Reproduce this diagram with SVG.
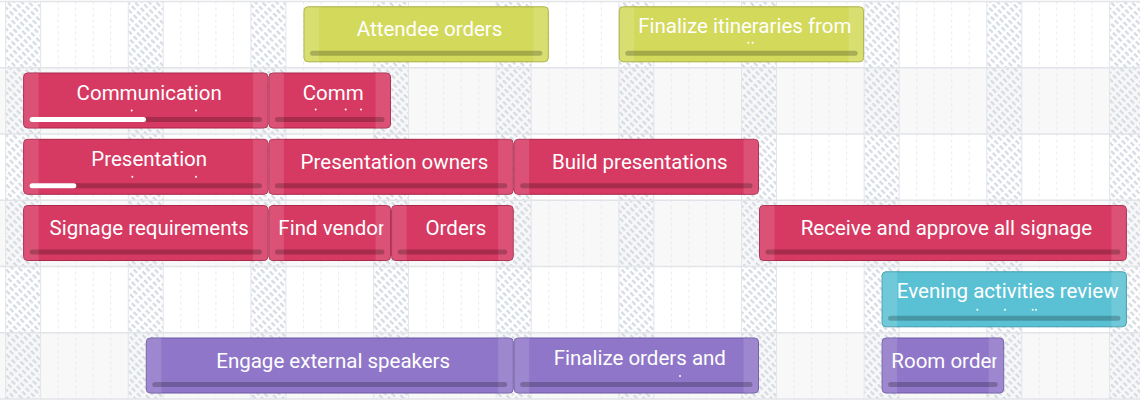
<svg xmlns="http://www.w3.org/2000/svg" xmlns:xlink="http://www.w3.org/1999/xlink" width="1140" height="414" viewBox="0 0 1140 414">
<style>
.rowA{fill:#ffffff}
.rowB{fill:#f8f8f9}
.hline{stroke:#e1e4e8;stroke-width:1.5}
.dline{stroke:#e9ebee;stroke-width:1;stroke-dasharray:3 3}
.wline{stroke:#e3e6ea;stroke-width:1}
.red{fill:#d63962;stroke:#a8274b;stroke-width:1}
.yel{fill:#d3d95b;stroke:#a9ae3e;stroke-width:1}
.cyan{fill:#5ac1d4;stroke:#3e9aab;stroke-width:1}
.purp{fill:#8f76c8;stroke:#6d58a3;stroke-width:1}
.hl{fill:#ffffff;opacity:0.13}
.track{fill:#000000;opacity:0.22}
.prog{fill:#ffffff}
.lbl{font-family:Roboto,"Liberation Sans",sans-serif;font-size:20.5px;fill:#ffffff;text-anchor:middle}
.dot{fill:#ffffff}
</style>
<defs>
<pattern id="hatch" patternUnits="userSpaceOnUse" width="7.5" height="5" patternTransform="rotate(45)">
<rect x="0" y="0" width="5" height="2.3" fill="#d5dbe2"/>
</pattern>
<path id="edgeL" d="M4,0 H15 V55 H4 A4,4 0 0 1 0,51 V4 A4,4 0 0 1 4,0 Z"/>
<path id="edgeR" d="M0,0 H11 A4,4 0 0 1 15,4 V51 A4,4 0 0 1 11,55 H0 Z"/>
<clipPath id="clipS" clipPathUnits="userSpaceOnUse"><rect x="7" y="0" width="107.5" height="55"/></clipPath>
</defs>

<g id="grid">
<rect x="0" y="0" width="1140" height="414" fill="#ffffff"/>
<rect class="rowA" x="0" y="1.5" width="1140" height="66.25"/>
<rect class="rowB" x="0" y="67.75" width="1140" height="66.25"/>
<rect class="rowA" x="0" y="134" width="1140" height="66.25"/>
<rect class="rowB" x="0" y="200.25" width="1140" height="66.25"/>
<rect class="rowA" x="0" y="266.5" width="1140" height="66.25"/>
<rect class="rowB" x="0" y="332.75" width="1140" height="66.25"/>
<g>
<rect x="5.6" y="1.5" width="35" height="397.5" fill="url(#hatch)"/>
<rect x="128.25" y="1.5" width="35" height="397.5" fill="url(#hatch)"/>
<rect x="250.9" y="1.5" width="35" height="397.5" fill="url(#hatch)"/>
<rect x="373.55" y="1.5" width="35" height="397.5" fill="url(#hatch)"/>
<rect x="496.2" y="1.5" width="35" height="397.5" fill="url(#hatch)"/>
<rect x="618.85" y="1.5" width="35" height="397.5" fill="url(#hatch)"/>
<rect x="741.5" y="1.5" width="35" height="397.5" fill="url(#hatch)"/>
<rect x="864.15" y="1.5" width="35" height="397.5" fill="url(#hatch)"/>
<rect x="986.8" y="1.5" width="35" height="397.5" fill="url(#hatch)"/>
<rect x="1109.45" y="1.5" width="35" height="397.5" fill="url(#hatch)"/>
</g>
<g>
<path class="dline" d="M58.2,1.5V399M75.7,1.5V399M93.2,1.5V399M110.7,1.5V399M180.8,1.5V399M198.4,1.5V399M215.9,1.5V399M233.4,1.5V399M303.5,1.5V399M321,1.5V399M338.5,1.5V399M356,1.5V399M426.1,1.5V399M443.6,1.5V399M461.2,1.5V399M478.7,1.5V399M548.8,1.5V399M566.3,1.5V399M583.8,1.5V399M601.3,1.5V399M671.4,1.5V399M688.9,1.5V399M706.4,1.5V399M724,1.5V399M794,1.5V399M811.6,1.5V399M829.1,1.5V399M846.6,1.5V399M916.7,1.5V399M934.2,1.5V399M951.7,1.5V399M969.2,1.5V399M1039.3,1.5V399M1056.8,1.5V399M1074.4,1.5V399M1091.9,1.5V399"/>
<path class="wline" d="M5.6,1.5V399M40.6,1.5V399M128.25,1.5V399M163.25,1.5V399M250.9,1.5V399M285.9,1.5V399M373.55,1.5V399M408.55,1.5V399M496.2,1.5V399M531.2,1.5V399M618.85,1.5V399M653.85,1.5V399M741.5,1.5V399M776.5,1.5V399M864.15,1.5V399M899.15,1.5V399M986.8,1.5V399M1021.8,1.5V399M1109.45,1.5V399"/>
</g>
<path class="hline" d="M0,1.5H1140M0,67.75H1140M0,134H1140M0,200.25H1140M0,266.5H1140M0,332.75H1140M0,399H1140"/>
</g>

<g id="connectors"></g>

<g id="task-attendee-orders" transform="translate(304,6.8)">
<rect class="yel" width="244.3" height="55" rx="4"/>
<use href="#edgeL" class="hl"/><use href="#edgeR" class="hl" x="229.3"/>
<rect class="track" x="6" y="44" width="232.3" height="5" rx="2.5"/>
<text class="lbl" x="125.6" y="29.5">Attendee orders</text>
</g>

<g id="task-finalize-itineraries" transform="translate(619.3,6.8)">
<rect class="yel" width="244.3" height="55" rx="4"/>
<use href="#edgeL" class="hl"/><use href="#edgeR" class="hl" x="229.3"/>
<rect class="track" x="6" y="44" width="232.3" height="5" rx="2.5"/>
<text class="lbl" x="125.6" y="26.5">Finalize itineraries from</text>
<circle class="dot" cx="129" cy="36" r="1"/><circle class="dot" cx="133.4" cy="36" r="1"/>
</g>

<g id="task-communication" transform="translate(23.6,73)">
<rect class="red" width="244.3" height="55" rx="4"/>
<use href="#edgeL" class="hl"/><use href="#edgeR" class="hl" x="229.3"/>
<rect class="track" x="6" y="44" width="232.3" height="5" rx="2.5"/>
<rect class="prog" x="6" y="44" width="116.4" height="5" rx="2.5"/>
<text class="lbl" x="125.6" y="27">Communication</text>
<circle class="dot" cx="108.1" cy="37.5" r="1"/><circle class="dot" cx="172.4" cy="37.5" r="1"/>
</g>

<g id="task-comm" transform="translate(268.9,73)">
<rect class="red" width="121.6" height="55" rx="4"/>
<use href="#edgeL" class="hl"/><use href="#edgeR" class="hl" x="106.6"/>
<rect class="track" x="6" y="44" width="109.6" height="5" rx="2.5"/>
<text class="lbl" x="64.3" y="27">Comm</text>
<circle class="dot" cx="46.8" cy="36.5" r="1"/><circle class="dot" cx="76.8" cy="36.5" r="1"/><circle class="dot" cx="92.1" cy="36.5" r="1"/>
</g>

<g id="task-presentation" transform="translate(23.6,139.3)">
<rect class="red" width="244.3" height="55" rx="4"/>
<use href="#edgeL" class="hl"/><use href="#edgeR" class="hl" x="229.3"/>
<rect class="track" x="6" y="44" width="232.3" height="5" rx="2.5"/>
<rect class="prog" x="6" y="44" width="46.7" height="5" rx="2.5"/>
<text class="lbl" x="125.6" y="26.5">Presentation</text>
<circle class="dot" cx="108.7" cy="37.5" r="1"/><circle class="dot" cx="172.4" cy="37.5" r="1"/>
</g>

<g id="task-presentation-owners" transform="translate(268.9,139.3)">
<rect class="red" width="244.3" height="55" rx="4"/>
<use href="#edgeL" class="hl"/><use href="#edgeR" class="hl" x="229.3"/>
<rect class="track" x="6" y="44" width="232.3" height="5" rx="2.5"/>
<text class="lbl" x="125.6" y="29.5">Presentation owners</text>
</g>

<g id="task-build-presentations" transform="translate(514.2,139.3)">
<rect class="red" width="244.3" height="55" rx="4"/>
<use href="#edgeL" class="hl"/><use href="#edgeR" class="hl" x="229.3"/>
<rect class="track" x="6" y="44" width="232.3" height="5" rx="2.5"/>
<text class="lbl" x="125.6" y="29.5">Build presentations</text>
</g>

<g id="task-signage-requirements" transform="translate(23.6,205.5)">
<rect class="red" width="244.3" height="55" rx="4"/>
<use href="#edgeL" class="hl"/><use href="#edgeR" class="hl" x="229.3"/>
<rect class="track" x="6" y="44" width="232.3" height="5" rx="2.5"/>
<text class="lbl" x="125.6" y="29.5">Signage requirements</text>
</g>

<g id="task-find-vendors" transform="translate(268.9,205.5)">
<rect class="red" width="121.6" height="55" rx="4"/>
<use href="#edgeL" class="hl"/><use href="#edgeR" class="hl" x="106.6"/>
<rect class="track" x="6" y="44" width="109.6" height="5" rx="2.5"/>
<text class="lbl" x="68" y="29.5" clip-path="url(#clipS)">Find vendors</text>
</g>

<g id="task-orders" transform="translate(391.6,205.5)">
<rect class="red" width="121.6" height="55" rx="4"/>
<use href="#edgeL" class="hl"/><use href="#edgeR" class="hl" x="106.6"/>
<rect class="track" x="6" y="44" width="109.6" height="5" rx="2.5"/>
<text class="lbl" x="64.3" y="29.5">Orders</text>
</g>

<g id="task-receive-signage" transform="translate(759.5,205.5)">
<rect class="red" width="366.9" height="55" rx="4"/>
<use href="#edgeL" class="hl"/><use href="#edgeR" class="hl" x="351.9"/>
<rect class="track" x="6" y="44" width="354.9" height="5" rx="2.5"/>
<text class="lbl" x="186.9" y="29.5">Receive and approve all signage</text>
</g>

<g id="task-evening-activities" transform="translate(882.1,271.8)">
<rect class="cyan" width="244.3" height="55" rx="4"/>
<use href="#edgeL" class="hl"/><use href="#edgeR" class="hl" x="229.3"/>
<rect class="track" x="6" y="44" width="232.3" height="5" rx="2.5"/>
<text class="lbl" x="125.6" y="26">Evening activities review</text>
<circle class="dot" cx="95.2" cy="38" r="1"/><circle class="dot" cx="122.9" cy="38" r="1"/><circle class="dot" cx="150.6" cy="38" r="1"/><circle class="dot" cx="153.9" cy="38" r="1"/>
</g>

<g id="task-engage-speakers" transform="translate(146.3,338)">
<rect class="purp" width="366.9" height="55" rx="4"/>
<use href="#edgeL" class="hl"/><use href="#edgeR" class="hl" x="351.9"/>
<rect class="track" x="6" y="44" width="354.9" height="5" rx="2.5"/>
<text class="lbl" x="186.9" y="29.5">Engage external speakers</text>
</g>

<g id="task-finalize-orders" transform="translate(514.2,338)">
<rect class="purp" width="244.3" height="55" rx="4"/>
<use href="#edgeL" class="hl"/><use href="#edgeR" class="hl" x="229.3"/>
<rect class="track" x="6" y="44" width="232.3" height="5" rx="2.5"/>
<text class="lbl" x="125.6" y="26.5">Finalize orders and</text>
<circle class="dot" cx="165.8" cy="38" r="1"/>
</g>

<g id="task-room-orders" transform="translate(882.1,338)">
<rect class="purp" width="121.6" height="55" rx="4"/>
<use href="#edgeL" class="hl"/><use href="#edgeR" class="hl" x="106.6"/>
<rect class="track" x="6" y="44" width="109.6" height="5" rx="2.5"/>
<text class="lbl" x="68" y="29.5" clip-path="url(#clipS)">Room orders</text>
</g>
</svg>
